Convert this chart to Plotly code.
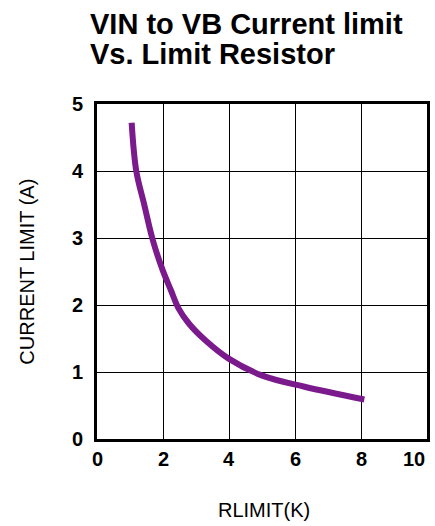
import plotly.graph_objects as go

rlimit_k = [1.05, 1.19, 1.43, 1.69, 1.99, 2.24, 2.47, 2.79, 3.29, 3.99, 4.99, 6.29, 8.1]
current_a = [4.72, 4.0, 3.5, 2.97, 2.52, 2.22, 1.95, 1.72, 1.47, 1.20, 0.95, 0.78, 0.59]

x_ticks = [0, 2, 4, 6, 8, 10]
y_ticks = [0, 1, 2, 3, 4, 5]

title_lines = ["VIN to VB Current limit", "Vs. Limit Resistor"]
x_title = "RLIMIT(K)"
y_title = "CURRENT LIMIT (A)"

FONT = "Liberation Sans, Arial, sans-serif"
W, H = 435, 526
# plot area in page pixels: left 97, right 430, top 104, bottom 439
L, T = 97, 104
R = W - 430
B = H - 439

fig = go.Figure()
fig.add_trace(go.Scatter(
    x=rlimit_k, y=current_a, mode="lines",
    line=dict(color="#7B1A8C", width=6, shape="spline", smoothing=1.0),
    showlegend=False, hoverinfo="skip",
))

axis_common = dict(
    showline=True, mirror=True, linecolor="black", linewidth=3,
    showgrid=True, gridcolor="black", gridwidth=1,
    zeroline=False, ticks="",
)

fig.update_xaxes(range=[0, 10], tickvals=x_ticks, showticklabels=False, **axis_common)
fig.update_yaxes(range=[0, 5], tickvals=y_ticks, ticklabelstandoff=7,
                 tickfont=dict(family=FONT, size=20, color="black", weight="bold"),
                 **axis_common)

PW, PH = W - L - R, H - T - B

def fx(page_x):
    return (page_x - L) / PW

def fy(page_y):
    return (H - page_y - B) / PH

annos = [
    dict(text=title_lines[0], x=fx(88), y=fy(42), xanchor="left", yanchor="bottom",
         font=dict(size=29, weight="bold")),
    dict(text=title_lines[1], x=fx(88), y=fy(72), xanchor="left", yanchor="bottom",
         font=dict(size=29, weight="bold")),
    dict(text=x_title, x=fx(266), y=fy(510), xanchor="center", yanchor="middle",
         font=dict(size=20)),
    dict(text=y_title, x=fx(26), y=fy(272), xanchor="center", yanchor="middle",
         textangle=-90, font=dict(size=20)),
]
for i, v in enumerate(x_ticks):
    last = i == len(x_ticks) - 1
    annos.append(dict(text=str(v), x=(v - 0) / 10, y=fy(459), xanchor="right" if last else "center",
                      yanchor="middle", font=dict(size=20, weight="bold")))
for a in annos:
    a.update(xref="paper", yref="paper", showarrow=False)
    a["font"].update(family=FONT, color="black")
fig.update_layout(annotations=annos)

fig.update_layout(
    width=W, height=H,
    margin=dict(l=L, r=R, t=T, b=B, pad=0),
    paper_bgcolor="white", plot_bgcolor="white",
)

fig.write_html("out.html", config={"displayModeBar": False},
               post_script="document.body.style.margin='0px';")
